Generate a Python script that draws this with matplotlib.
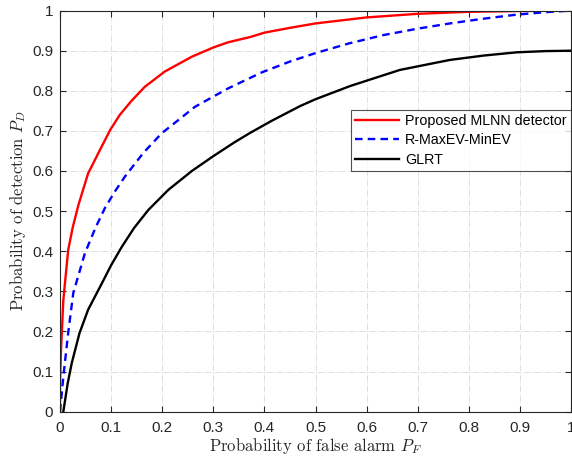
import matplotlib
matplotlib.use('Agg')
import matplotlib.pyplot as plt

# ROC curves
pf_mlnn = [0, 0.0, 0.002, 0.0065, 0.016, 0.025, 0.036, 0.055, 0.078, 0.098, 0.117, 0.14, 0.166, 0.205, 0.258,
           0.3, 0.329, 0.372, 0.4, 0.45, 0.5, 0.6, 0.7, 0.8, 0.9, 1.0]
pd_mlnn = [0, 0.07, 0.154, 0.278, 0.403, 0.46, 0.515, 0.594, 0.652, 0.702, 0.74, 0.775, 0.81, 0.848, 0.885,
           0.908, 0.921, 0.934, 0.945, 0.957, 0.968, 0.983, 0.992, 0.997, 0.999, 1.0]

pf_maxev = [0, 0.0065, 0.016, 0.026, 0.049, 0.07, 0.088, 0.108, 0.127, 0.163, 0.199, 0.264, 0.329, 0.395,
            0.45, 0.5, 0.565, 0.633, 0.7, 0.763, 0.83, 0.894, 0.95, 1.0]
pd_maxev = [0, 0.087, 0.196, 0.296, 0.396, 0.46, 0.508, 0.55, 0.586, 0.645, 0.694, 0.76, 0.806, 0.846,
            0.873, 0.894, 0.918, 0.939, 0.955, 0.968, 0.98, 0.99, 0.996, 1.0]

pf_glrt = [0.0065, 0.015, 0.023, 0.038, 0.055, 0.082, 0.1, 0.121, 0.145, 0.173, 0.212, 0.258, 0.3, 0.342,
           0.372, 0.414, 0.47, 0.5, 0.568, 0.665, 0.763, 0.83, 0.894, 0.95, 1.0]
pd_glrt = [0, 0.07, 0.121, 0.195, 0.254, 0.32, 0.365, 0.411, 0.458, 0.503, 0.553, 0.6, 0.637, 0.672,
           0.695, 0.725, 0.762, 0.779, 0.812, 0.852, 0.877, 0.888, 0.896, 0.899, 0.9]

ticks = [i / 10 for i in range(11)]
tick_labels = ['0', '0.1', '0.2', '0.3', '0.4', '0.5', '0.6', '0.7', '0.8', '0.9', '1']

plt.rcParams['mathtext.fontset'] = 'cm'
plt.rcParams['font.family'] = ['Liberation Sans', 'DejaVu Sans']

fig = plt.figure(figsize=(5.72, 4.62), dpi=100)
ax = fig.add_axes([60 / 572, 50.4 / 462, 511 / 572, 401 / 462])

ax.plot(pf_mlnn, pd_mlnn, color='#ff0000', lw=1.7, label='Proposed MLNN detector')
ax.plot(pf_maxev, pd_maxev, color='#0000ff', lw=1.7, ls=(0, (3.2, 2.2)), label='R-MaxEV-MinEV')
ax.plot(pf_glrt, pd_glrt, color='black', lw=1.7, label='GLRT')

ax.set_xlim(0, 1)
ax.set_ylim(0, 1)
ax.set_xticks(ticks)
ax.set_xticklabels(tick_labels)
ax.set_yticks(ticks)
ax.set_yticklabels(tick_labels)
ax.tick_params(direction='in', top=True, right=True, labelsize=11, colors='#262626', length=4)
ax.tick_params(axis='x', pad=6.5)
ax.tick_params(axis='y', pad=5)
for s in ax.spines.values():
    s.set_color('#262626')
    s.set_linewidth(0.8)
ax.grid(True, color='#dedede', ls='-.', lw=0.7)
ax.set_axisbelow(True)

ax.set_xlabel('Probability of false alarm $P_F$', family='cmr10', fontsize=12, color='#262626', labelpad=1)
ax.set_ylabel('Probability of detection $P_D$', family='cmr10', fontsize=12, color='#262626', labelpad=3)

leg = ax.legend(loc='upper right', bbox_to_anchor=(1.0, 0.753), fontsize=10.3, frameon=True,
                fancybox=False, edgecolor='#262626', handlelength=3.1, borderpad=0.3,
                labelspacing=0.38, handletextpad=0.4, borderaxespad=0.0)
leg.get_frame().set_linewidth(0.8)

fig.savefig('out.png', dpi=100)
